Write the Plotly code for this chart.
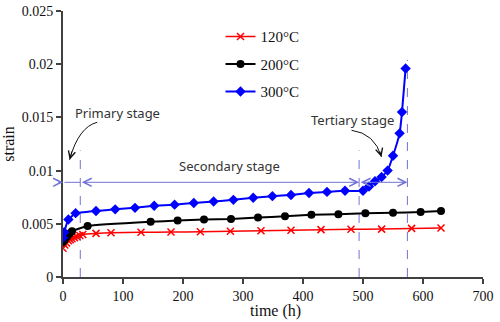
import plotly.graph_objects as go

# Creep strain vs. time at three temperatures
time_120 = [0, 3, 6, 9, 12, 15, 19, 23, 28, 33, 55, 80, 130, 180, 229, 279, 330, 380, 430, 480, 531, 581, 630]
strain_120 = [0.0027, 0.0030, 0.0032, 0.0034, 0.0035, 0.0036, 0.0037, 0.0038, 0.0039, 0.0040, 0.0041,
              0.00415, 0.0042, 0.00423, 0.00425, 0.0043, 0.00435, 0.0044, 0.00445, 0.00448, 0.0045,
              0.00457, 0.0046]

time_200 = [0, 3, 7, 11, 15, 41, 146, 191, 235, 280, 325, 370, 414, 459, 504, 550, 596, 630]
strain_200 = [0.0033, 0.0035, 0.0038, 0.0041, 0.0043, 0.0048, 0.0052, 0.0053, 0.0054, 0.00545, 0.0056,
              0.0057, 0.00585, 0.0059, 0.0060, 0.00603, 0.0061, 0.0062]

time_300 = [0, 2, 9, 21, 55, 87, 120, 152, 186, 218, 251, 284, 317, 349, 380, 410, 440, 470, 500,
            510, 520, 531, 541, 550, 561, 565, 571]
strain_300 = [0.0037, 0.0042, 0.0054, 0.0060, 0.0062, 0.00636, 0.0065, 0.0067, 0.0068, 0.00696, 0.0071,
              0.00725, 0.00745, 0.0076, 0.0077, 0.0079, 0.0080, 0.0081, 0.0081, 0.0085, 0.0090, 0.0094,
              0.0100, 0.0114, 0.0135, 0.0155, 0.0196]

x_ticks = [0, 100, 200, 300, 400, 500, 600, 700]
y_ticks = [0, 0.005, 0.01, 0.015, 0.02, 0.025]
y_tick_text = ["0", "0.005", "0.01", "0.015", "0.02", "0.025"]

# Stage boundaries (h) and the level of the stage arrows
stage_bounds = [28.8, 493.5, 574]
stage_tops = [0.0119, 0.0119, 0.0204]
arrow_level = 0.0089

SERIF = "Times New Roman, Liberation Serif, serif"
SANS = "Noto Sans"
GUIDE = "#7272d6"
AXIS = "#404040"

fig = go.Figure()
fig.add_trace(go.Scatter(
    x=time_120, y=strain_120, name="120°C", mode="lines+markers", legendgroup="a",
    line=dict(color="#ff0000", width=1.5, shape="spline", smoothing=0.3),
    marker=dict(symbol="x-thin", size=7, line=dict(color="#ff0000", width=1.5))))
fig.add_trace(go.Scatter(
    x=time_200, y=strain_200, name="200°C", mode="lines+markers", legendgroup="b",
    line=dict(color="#000000", width=2, shape="spline", smoothing=0.3),
    marker=dict(symbol="circle", size=8, color="#000000")))
fig.add_trace(go.Scatter(
    x=time_300, y=strain_300, name="300°C", mode="lines+markers", legendgroup="c",
    line=dict(color="#0000ff", width=2, shape="spline", smoothing=0.3),
    marker=dict(symbol="diamond", size=8, color="#0000ff")))

# Dashed stage boundaries
for xb, top in zip(stage_bounds, stage_tops):
    fig.add_shape(type="line", xref="x", yref="y", x0=xb, x1=xb, y0=0, y1=top,
                  line=dict(color=GUIDE, width=1, dash="dash"), layer="below")


def h_arrow(x_head, x_tail, both=False, head=5):
    fig.add_annotation(x=x_head, y=arrow_level, ax=x_tail, ay=arrow_level,
                       xref="x", yref="y", axref="x", ayref="y", text="",
                       showarrow=True, arrowhead=head if head else 0,
                       startarrowhead=head if head else 0,
                       arrowside="end+start" if both else "end",
                       arrowsize=1.6, arrowwidth=1, arrowcolor=GUIDE)


h_arrow(0, -10)                                   # primary stage marker at the axis
h_arrow(stage_bounds[0], 0, head=0)               # primary stage span
h_arrow(stage_bounds[1], stage_bounds[0], both=True)  # secondary stage
h_arrow(stage_bounds[2], stage_bounds[1], both=True)  # tertiary stage


def curved_arrow(start, ctrl, tip):
    fig.add_shape(type="path", xref="x", yref="y",
                  path=f"M{start[0]},{start[1]} Q{ctrl[0]},{ctrl[1]} {tip[0]},{tip[1]}",
                  line=dict(color="#111111", width=1))
    tail = (tip[0] - 0.3 * (tip[0] - ctrl[0]), tip[1] - 0.3 * (tip[1] - ctrl[1]))
    fig.add_annotation(x=tip[0], y=tip[1], ax=tail[0], ay=tail[1],
                       xref="x", yref="y", axref="x", ayref="y", text="",
                       showarrow=True, arrowhead=5, arrowsize=1.4, arrowwidth=1,
                       arrowcolor="#111111")


curved_arrow((57, 0.01454), (26, 0.0141), (11, 0.01103))
curved_arrow((480.9, 0.01379), (519.6, 0.0135), (530.8, 0.01128))

stage_font = dict(family=SANS, size=13, color="#333333")
fig.add_annotation(x=90, y=0.01539, text="Primary stage", showarrow=False, font=stage_font)
fig.add_annotation(x=278, y=0.0104, text="Secondary stage", showarrow=False, font=stage_font)
fig.add_annotation(x=482, y=0.01473, text="Tertiary stage", showarrow=False, font=stage_font)

# x-axis title placed just under the tick labels
fig.add_annotation(xref="paper", yref="paper", x=0.505, y=-0.127, yanchor="middle",
                   text="time (h)", showarrow=False,
                   font=dict(family=SERIF, size=16, color="#111111"))

fig.update_layout(
    width=500, height=322,
    margin=dict(l=63, r=17, t=11, b=45, autoexpand=False),
    paper_bgcolor="white", plot_bgcolor="white",
    font=dict(family=SERIF, size=14, color="#111111"),
    showlegend=True,
    legend=dict(x=0.375, y=0.965, xanchor="left", yanchor="top",
                font=dict(family=SERIF, size=15, color="#111111"),
                bgcolor="rgba(0,0,0,0)", itemwidth=30, tracegroupgap=5),
    xaxis=dict(range=[0, 700], tickvals=x_ticks, showgrid=False, zeroline=False,
               automargin=False,
               showline=True, linecolor=AXIS, linewidth=2, ticks="outside",
               ticklen=5, tickcolor=AXIS, tickwidth=2,
               tickfont=dict(family=SERIF, size=14, color="#111111")),
    yaxis=dict(range=[0, 0.025], tickvals=y_ticks, ticktext=y_tick_text, showgrid=False,
               zeroline=False, automargin=False,
               showline=True, linecolor=AXIS, linewidth=2, ticks="outside",
               ticklen=5, tickcolor=AXIS, tickwidth=2,
               tickfont=dict(family=SERIF, size=14, color="#111111"),
               title=dict(text="strain", font=dict(family=SERIF, size=16, color="#111111"),
                          standoff=4)),
)

fig.write_html("out.html")
